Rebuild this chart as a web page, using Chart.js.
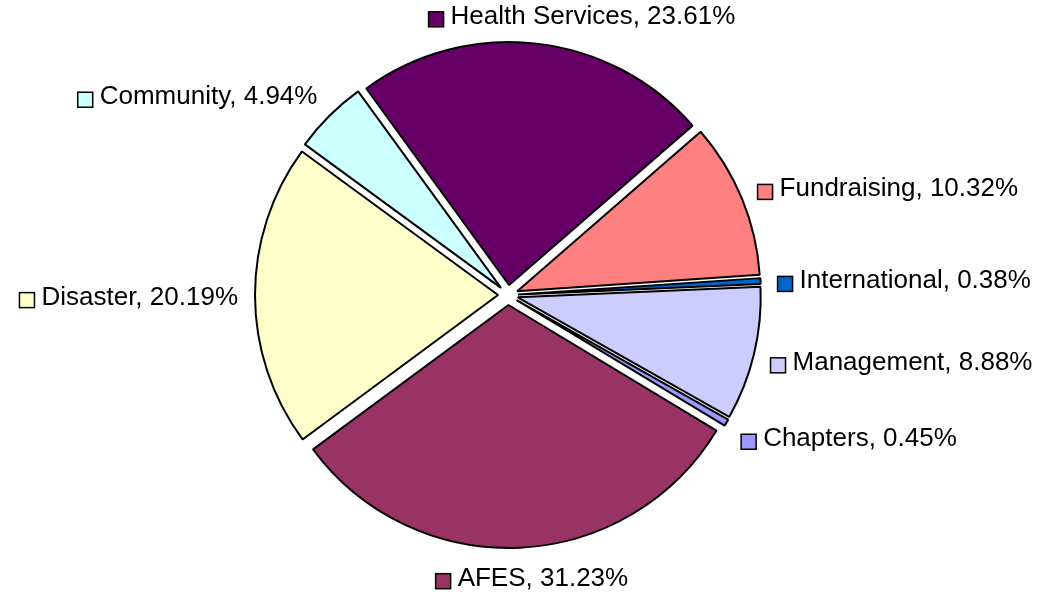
<!DOCTYPE html>
<html>
<head>
<meta charset="utf-8">
<script src="https://cdn.jsdelivr.net/npm/chart.js@4.4.1/dist/chart.umd.min.js"></script>
<style>
  html, body { margin: 0; padding: 0; background: #fff; }
  #wrap { width: 1042px; height: 592px; }
</style>
</head>
<body>
<div id="wrap"><canvas id="myChart" width="1042" height="592"></canvas></div>
<script>
// share of spending by area, in percent (clockwise from Health Services)
const categories = ['Health Services', 'Fundraising', 'International', 'Management', 'Chapters', 'AFES', 'Disaster', 'Community'];
const shares = [23.61, 10.32, 0.38, 8.88, 0.45, 31.23, 20.19, 4.94];
const sliceColors = ['#660066', '#FF8080', '#0066CC', '#CCCCFF', '#9999FF', '#993366', '#FFFFCC', '#CCFFFF'];

const explode = 10;     // px each slice is pushed out
const labelRx = 270;    // label anchor distance, horizontal
const labelRy = 282;    // label anchor distance, vertical
const labelFont = '26px "Liberation Sans", Arial, sans-serif';

// push every slice out along its middle angle, like an exploded Excel pie
const explodePlugin = {
  id: 'explode',
  afterUpdate(chart) {
    chart.getDatasetMeta(0).data.forEach(function (arc) {
      const mid = (arc.startAngle + arc.endAngle) / 2;
      arc.x += Math.cos(mid) * explode;
      arc.y += Math.sin(mid) * explode;
    });
  }
};

// outside labels with a small colour square in front
const labelPlugin = {
  id: 'sliceLabels',
  afterDatasetsDraw(chart) {
    const ctx = chart.ctx;
    const meta = chart.getDatasetMeta(0);
    ctx.save();
    ctx.font = labelFont;
    ctx.textBaseline = 'alphabetic';
    meta.data.forEach(function (arc, i) {
      const mid = (arc.startAngle + arc.endAngle) / 2;
      const cx = arc.x - Math.cos(mid) * explode;
      const cy = arc.y - Math.sin(mid) * explode;
      const dx = Math.cos(mid), dy = Math.sin(mid);
      const text = categories[i] + ', ' + shares[i].toFixed(2) + '%';
      const box = 15, gap = 7;
      const w = box + gap + ctx.measureText(text).width;
      let f = 0.5 - 1.25 * dx;
      f = Math.max(0, Math.min(1, f));
      const left = cx + labelRx * dx - f * w;
      const yc = cy + labelRy * dy;
      const base = yc + 9;
      ctx.fillStyle = sliceColors[i];
      ctx.fillRect(left, base - 12, box, box);
      ctx.strokeStyle = '#000';
      ctx.lineWidth = 1.5;
      ctx.strokeRect(left, base - 12, box, box);
      ctx.fillStyle = '#000';
      ctx.fillText(text, left + box + gap, base);
    });
    ctx.restore();
  }
};

const ctx = document.getElementById('myChart').getContext('2d');
const myChart = new Chart(ctx, {
  type: 'pie',
  data: {
    labels: categories,
    datasets: [{
      data: shares,
      backgroundColor: sliceColors,
      borderColor: '#000000',
      borderWidth: 2
    }]
  },
  options: {
    responsive: false,
    animation: false,
    events: [],
    rotation: -36,
    layout: { padding: { top: 51, bottom: 53, left: 0, right: 26 } },
    plugins: {
      legend: { display: false },
      tooltip: { enabled: false }
    }
  },
  plugins: [explodePlugin, labelPlugin]
});
</script>
</body>
</html>
